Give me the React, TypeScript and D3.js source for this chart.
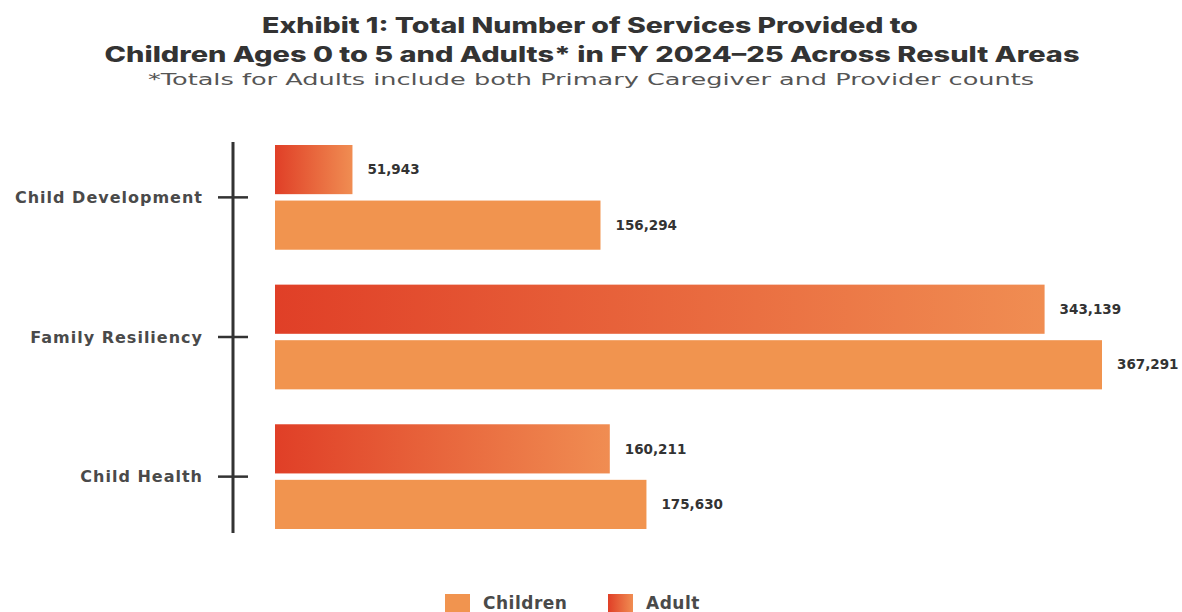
import React from 'react';
import * as d3 from 'd3';

const categories = ['Child Development', 'Family Resiliency', 'Child Health'];
const seriesNames = ['Adult', 'Children'];
const adultValues = [51943, 343139, 160211];
const childrenValues = [156294, 367291, 175630];
const titleLines = [
  'Exhibit 1:  Total Number of Services Provided to',
  'Children Ages 0 to 5 and Adults* in FY 2024\u201325 Across Result Areas',
];
const subtitle = '*Totals for Adults include both Primary Caregiver and Provider counts';
const legendItems = ['Children', 'Adult'];

const W = 1182;
const H = 612;
const FONT = 'Inter, "Open Sans", sans-serif';
const WIDE = '"DejaVu Sans", Inter, sans-serif';
const CHILD_COLOR = '#F1944F';
const ADULT_LEFT = '#E03F27';
const ADULT_RIGHT = '#F08D52';
const TEXT = '#333333';

export default function App() {
  const axisX = 233;
  const barStart = 275;
  const x = d3
    .scaleLinear()
    .domain([0, d3.max([...adultValues, ...childrenValues]) as number])
    .range([229, 1102]);
  const y = d3.scaleBand<string>().domain(categories).range([145, 529]).paddingInner(0.25);
  const ySub = d3.scaleBand<string>().domain(seriesNames).range([0, y.bandwidth()]).paddingInner(0.115);
  const fmt = d3.format(',');

  const rows = categories.map((c, i) => ({
    cat: c,
    values: [
      { s: 'Adult', v: adultValues[i] },
      { s: 'Children', v: childrenValues[i] },
    ],
  }));

  return (
    <svg
      width={W}
      height={H}
      style={{ position: 'absolute', left: 0, top: 0, background: '#fff' }}
      fontFamily={FONT}
    >
      <defs>
        <linearGradient id="adultGrad" x1="0" x2="1" y1="0" y2="0">
          <stop offset="0%" stopColor={ADULT_LEFT} />
          <stop offset="100%" stopColor={ADULT_RIGHT} />
        </linearGradient>
      </defs>
      <rect x={0} y={0} width={W} height={H} fill="#fff" />

      {/* Titles */}
      <text x={590} y={33} textAnchor="middle" fontSize={21} fontWeight={800} fill={TEXT}
        textLength={656} lengthAdjust="spacingAndGlyphs">{titleLines[0]}</text>
      <text x={592} y={62} textAnchor="middle" fontSize={21} fontWeight={800} fill={TEXT}
        textLength={975} lengthAdjust="spacingAndGlyphs">{titleLines[1]}</text>
      <text x={591} y={85} textAnchor="middle" fontSize={16} fontFamily={WIDE} fill="#555"
        textLength={886} lengthAdjust="spacingAndGlyphs">{subtitle}</text>

      {/* Axis */}
      <line x1={axisX} x2={axisX} y1={142} y2={533} stroke="#333" strokeWidth={3} />
      {categories.map((c) => {
        const cy = (y(c) as number) + y.bandwidth() / 2;
        return (
          <g key={c}>
            <line x1={218} x2={248} y1={cy} y2={cy} stroke="#333" strokeWidth={2.5} />
            <text x={203} y={cy} dy="0.35em" textAnchor="end" fontSize={16} fontFamily={WIDE}
              fontWeight={700} letterSpacing={1} fill="#4a4a4a">
              {c}
            </text>
          </g>
        );
      })}

      {/* Bars */}
      {rows.map((r) => (
        <g key={r.cat} transform={`translate(0,${y(r.cat)})`}>
          {r.values.map((d) => {
            const by = ySub(d.s) as number;
            const bh = ySub.bandwidth();
            return (
              <g key={d.s}>
                <rect
                  x={barStart}
                  y={by}
                  width={x(d.v) - barStart}
                  height={bh}
                  fill={d.s === 'Adult' ? 'url(#adultGrad)' : CHILD_COLOR}
                />
                <text x={x(d.v) + 15} y={by + bh / 2} dy="0.35em" fontSize={13.5} fontFamily={WIDE}
                  fontWeight={700} fill={TEXT}>
                  {fmt(d.v)}
                </text>
              </g>
            );
          })}
        </g>
      ))}

      {/* Legend */}
      {legendItems.map((name, i) => {
        const lx = i === 0 ? 445 : 608;
        return (
          <g key={name}>
            <rect x={lx} y={594} width={25} height={22} fill={name === 'Adult' ? 'url(#adultGrad)' : CHILD_COLOR} />
            <text x={lx + 38} y={609} fontSize={17} fontFamily={WIDE} fontWeight={700} letterSpacing={0.5} fill="#4a4a4a">
              {name}
            </text>
          </g>
        );
      })}
    </svg>
  );
}
